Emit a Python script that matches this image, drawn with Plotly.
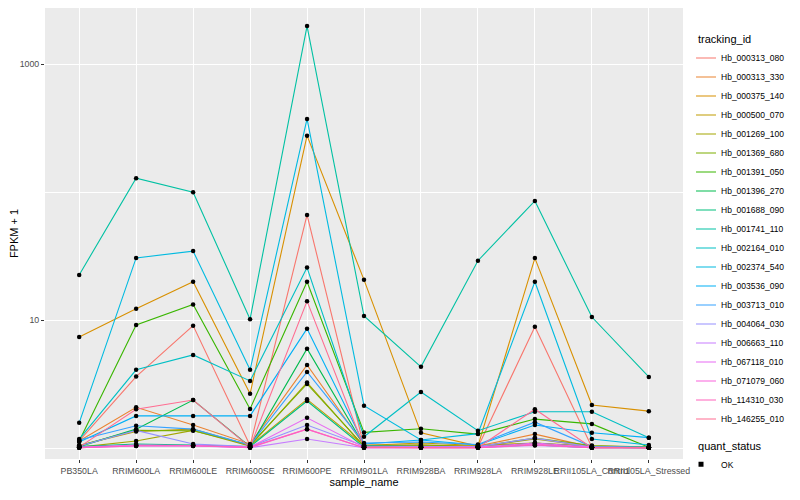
import plotly.graph_objects as go

samples = ["PB350LA", "RRIM600LA", "RRIM600LE", "RRIM600SE", "RRIM600PE",
           "RRIM901LA", "RRIM928BA", "RRIM928LA", "RRIM928LE",
           "RRII105LA_Control", "RRII105LA_Stressed"]

tracking_ids = ["Hb_000313_080", "Hb_000313_330", "Hb_000375_140", "Hb_000500_070",
                "Hb_001269_100", "Hb_001369_680", "Hb_001391_050", "Hb_001396_270",
                "Hb_001688_090", "Hb_001741_110", "Hb_002164_010", "Hb_002374_540",
                "Hb_003536_090", "Hb_003713_010", "Hb_004064_030", "Hb_006663_110",
                "Hb_067118_010", "Hb_071079_060", "Hb_114310_030", "Hb_146255_010"]

colors = ["#F8766D", "#EA8331", "#D89000", "#C09B00", "#A3A500", "#7CAE00", "#39B600",
          "#00BB4E", "#00BF7D", "#00C1A3", "#00BFC4", "#00BAE0", "#00B0F6", "#35A2FF",
          "#9590FF", "#C77CFF", "#E76BF3", "#FA62DB", "#FF62BC", "#FF6C91"]

# FPKM + 1 values, one list per tracking_id (order follows `samples`)
v_000313_080 = [1.14, 3.63, 9.08, 1.05, 66.5, 1.03, 1.02, 1.02, 8.9, 1.02, 1.01]
v_000313_330 = [1.14, 2.09, 1.52, 1.08, 4.47, 1.06, 1.06, 1.04, 1.29, 1.02, 1.01]
v_000375_140 = [7.41, 12.3, 20.0, 2.66, 277, 20.7, 1.32, 1.04, 30.6, 2.18, 1.95]
v_000500_070 = [1.05, 1.35, 1.41, 1.05, 2.41, 1.05, 1.10, 1.05, 1.10, 1.04, 1.02]
v_001269_100 = [1.02, 1.14, 1.38, 1.04, 3.26, 1.03, 1.04, 1.03, 1.18, 1.03, 1.02]
v_001369_680 = [1.05, 1.38, 1.37, 1.06, 3.18, 1.04, 1.06, 1.03, 1.20, 1.05, 1.02]
v_001391_050 = [1.14, 9.2, 13.3, 2.03, 20.0, 1.33, 1.42, 1.29, 1.69, 1.55, 1.02]
v_001396_270 = [1.03, 1.41, 2.38, 1.03, 6.0, 1.05, 1.03, 1.02, 1.10, 1.02, 1.01]
v_001688_090 = [1.03, 1.08, 1.06, 1.03, 2.34, 1.02, 1.02, 1.02, 1.06, 1.01, 1.01]
v_001741_110 = [22.6, 129, 100, 10.2, 1990, 10.8, 4.33, 29.2, 85.6, 10.6, 3.61]
v_002164_010 = [1.18, 4.1, 5.36, 3.36, 25.8, 1.23, 2.75, 1.37, 1.93, 1.93, 1.21]
v_002374_540 = [1.58, 30.7, 34.7, 4.1, 374, 2.15, 1.16, 1.30, 20.0, 1.18, 1.06]
v_003536_090 = [1.12, 1.79, 1.79, 1.79, 8.6, 1.08, 1.16, 1.06, 1.52, 1.32, 1.21]
v_003713_010 = [1.16, 1.50, 1.41, 1.06, 3.95, 1.10, 1.12, 1.07, 1.60, 1.03, 1.02]
v_004064_030 = [1.04, 1.38, 1.08, 1.03, 1.52, 1.04, 1.03, 1.03, 1.20, 1.02, 1.01]
v_006663_110 = [1.01, 1.04, 1.04, 1.01, 1.18, 1.01, 1.01, 1.01, 1.05, 1.01, 1.01]
v_067118_010 = [1.02, 1.06, 1.05, 1.02, 1.73, 1.02, 1.02, 1.02, 1.10, 1.02, 1.01]
v_071079_060 = [1.01, 1.05, 1.05, 1.01, 1.41, 1.01, 1.01, 1.01, 1.08, 1.01, 1.01]
v_114310_030 = [1.01, 1.04, 1.04, 1.02, 1.41, 1.01, 1.01, 1.01, 1.06, 1.01, 1.01]
v_146255_010 = [1.02, 2.02, 2.38, 1.02, 14.1, 1.02, 1.01, 1.01, 2.02, 1.01, 1.01]

series_values = [v_000313_080, v_000313_330, v_000375_140, v_000500_070, v_001269_100,
                 v_001369_680, v_001391_050, v_001396_270, v_001688_090, v_001741_110,
                 v_002164_010, v_002374_540, v_003536_090, v_003713_010, v_004064_030,
                 v_006663_110, v_067118_010, v_071079_060, v_114310_030, v_146255_010]

quant_status = "OK"

FONT = "Liberation Sans, Arial, Helvetica, sans-serif"

fig = go.Figure()

for name, col, vals in zip(tracking_ids, colors, series_values):
    fig.add_trace(go.Scatter(
        x=samples, y=vals, mode="lines", name=name,
        line=dict(color=col, width=1.1),
        legend="legend", hoverinfo="skip"))

# black points for all observations
all_x, all_y = [], []
for vals in series_values:
    all_x += samples
    all_y += vals
fig.add_trace(go.Scatter(
    x=all_x, y=all_y, mode="markers", showlegend=False,
    marker=dict(color="black", size=4.5, symbol="circle")))

# quant_status legend entry
fig.add_trace(go.Scatter(
    x=[samples[0]], y=[None], mode="markers", name=quant_status,
    marker=dict(color="black", size=5, symbol="square"),
    legend="legend2", showlegend=True))

fig.update_layout(
    width=800, height=500,
    margin=dict(l=37, r=125, t=0, b=49, autoexpand=False),
    paper_bgcolor="white", plot_bgcolor="#EBEBEB",
    font=dict(family=FONT, color="#000000"),
    showlegend=True,
    legend=dict(
        title=dict(text="tracking_id", font=dict(size=11)),
        font=dict(size=8.5), x=1.0204, xanchor="left", y=0.953, yanchor="top",
        bgcolor="rgba(0,0,0,0)", itemwidth=30, tracegroupgap=0,
        indentation=-15),
    legend2=dict(
        title=dict(text="quant_status", font=dict(size=11)),
        font=dict(size=8.5), x=1.0204, xanchor="left", y=0.052, yanchor="top",
        bgcolor="rgba(0,0,0,0)", itemwidth=30, indentation=-15),
    xaxis=dict(
        type="category", categoryorder="array", categoryarray=samples,
        range=[-0.6, len(samples) - 0.4],
        showgrid=True, gridcolor="white", gridwidth=1.1,
        ticks="outside", ticklen=3, tickcolor="#333333", tickangle=0,
        tickfont=dict(size=8.8, color="#4D4D4D"),
        title=dict(text="sample_name", font=dict(size=11), standoff=2),
        zeroline=False, showline=False, automargin=False),
    yaxis=dict(
        type="log", range=[-0.084, 3.44],
        tickmode="array", tickvals=[10, 1000], ticktext=["10", "1000"],
        showgrid=True, gridcolor="white", gridwidth=1.1,
        minor=dict(tickmode="array", tickvals=[1, 100], showgrid=True,
                   gridcolor="white", gridwidth=0.5, ticks=""),
        ticks="outside", ticklen=3, tickcolor="#333333",
        tickfont=dict(size=8.8, color="#4D4D4D"),
        title=dict(text="FPKM + 1", font=dict(size=11), standoff=2),
        zeroline=False, showline=False, automargin=False),
)

fig.write_html("out.html")
